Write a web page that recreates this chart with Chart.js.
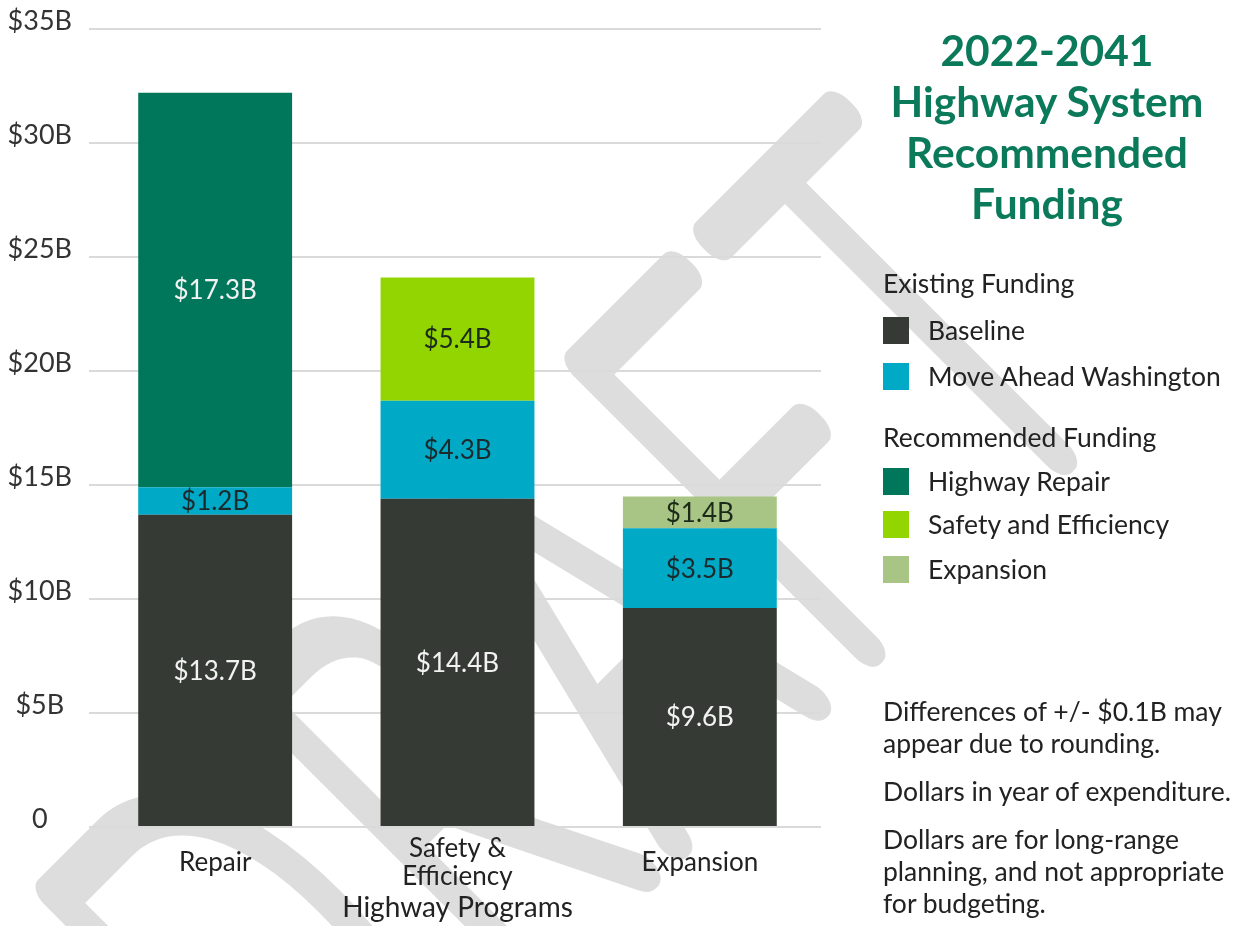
<!DOCTYPE html>
<html lang="en">
<head>
  <meta charset="UTF-8">
  <title>2022-2041 Highway System Recommended Funding</title>
  <script src="https://cdn.jsdelivr.net/npm/chart.js"></script>
  <style>
    body { margin: 0; background: #fff; font-family: 'Lato', 'Open Sans', sans-serif; color: #222; }
    #wrap { position: relative; width: 1242px; height: 926px; }
    #title { position: absolute; left: 852px; top: 24px; width: 390px; text-align: center; color: #0b7a5a;
      font-weight: 700; font-size: 42.5px; line-height: 51px; }
    .legend-head, .legend-item { position: absolute; left: 883px; font-size: 26.5px; line-height: 32px; color: #222; white-space: nowrap; }
    .legend-item { display: flex; align-items: center; }
    .legend-item span.sw { width: 26px; height: 27px; margin-right: 19px; display: inline-block; }
    .note { position: absolute; left: 883px; font-size: 26.5px; line-height: 32px; color: #222; white-space: nowrap; }
  </style>
</head>
<body>
  <div id="wrap">
    <canvas id="chart" width="1242" height="926"></canvas>
    <div id="title">2022-2041<br>Highway System<br>Recommended<br>Funding</div>
    <div id="legend"></div>
    <div class="note" style="top:695px">Differences of +/- $0.1B may<br>appear due to rounding.</div>
    <div class="note" style="top:775px">Dollars in year of expenditure.</div>
    <div class="note" style="top:823px">Dollars are for long-range<br>planning, and not appropriate<br>for budgeting.</div>
  </div>

  <script>
    // categories and values (billions of dollars)
    const categories = ['Repair', ['Safety &', 'Efficiency'], 'Expansion'];
    const baseline = [13.7, 14.4, 9.6];
    const moveAhead = [1.2, 4.3, 3.5];
    const highwayRepair = [17.3, null, null];
    const safetyEfficiency = [null, 5.4, null];
    const expansion = [null, null, 1.4];
    const yTicks = [0, 5, 10, 15, 20, 25, 30, 35];

    const colors = {
      baseline: '#363a35',
      moveAhead: '#00a9c6',
      repair: '#00775b',
      safety: '#93d500',
      expansion: '#a9c585'
    };

    // legend groups, built as html (heading y, then item rows)
    const legendGroups = [
      { head: 'Existing Funding', top: 267, rows: [314, 360], items: [['Baseline', colors.baseline], ['Move Ahead Washington', colors.moveAhead]] },
      { head: 'Recommended Funding', top: 421, rows: [465, 508, 553], items: [['Highway Repair', colors.repair], ['Safety and Efficiency', colors.safety], ['Expansion', colors.expansion]] }
    ];
    const legendDiv = document.getElementById('legend');
    legendGroups.forEach(g => {
      let html = `<div class="legend-head" style="top:${g.top}px">${g.head}</div>`;
      g.items.forEach((it, i) => {
        html += `<div class="legend-item" style="top:${g.rows[i]}px"><span class="sw" style="background:${it[1]}"></span>${it[0]}</div>`;
      });
      legendDiv.insertAdjacentHTML('beforeend', html);
    });

    // DRAFT watermark behind everything, running up to the right at 45 degrees
    const watermark = {
      id: 'watermark',
      beforeDraw(chart) {
        const ctx = chart.ctx;
        ctx.save();
        ctx.rotate(-Math.PI / 4);
        ctx.scale(0.59, 1);
        ctx.font = '100 570px Lato';
        ctx.letterSpacing = '45px';
        ctx.textAlign = 'left';
        ctx.textBaseline = 'alphabetic';
        ctx.fillStyle = '#dddddd';
        ctx.strokeStyle = '#dddddd';
        ctx.lineWidth = 44;
        ctx.lineJoin = 'round';
        ctx.lineCap = 'round';
        ctx.fillText('DRAFT', -1075, 1070);
        ctx.strokeText('DRAFT', -1075, 1070);
        ctx.restore();
      }
    };

    // value labels inside each segment
    const segmentLabels = {
      id: 'segmentLabels',
      afterDatasetsDraw(chart) {
        const ctx = chart.ctx;
        ctx.save();
        ctx.font = '26px Lato';
        ctx.textAlign = 'center';
        ctx.textBaseline = 'middle';
        chart.data.datasets.forEach((ds, di) => {
          const meta = chart.getDatasetMeta(di);
          meta.data.forEach((bar, i) => {
            const v = ds.data[i];
            if (v == null) return;
            const p = bar.getProps(['x', 'y', 'base'], true);
            ctx.fillStyle = ds.labelColor;
            ctx.fillText('$' + v.toFixed(1) + 'B', p.x, (p.y + p.base) / 2 + 1);
          });
        });
        ctx.restore();
      }
    };

    Chart.defaults.font.family = 'Lato';

    new Chart(document.getElementById('chart').getContext('2d'), {
      type: 'bar',
      data: {
        labels: categories,
        datasets: [
          { label: 'Baseline', data: baseline, backgroundColor: colors.baseline, labelColor: '#f2f2f2' },
          { label: 'Move Ahead Washington', data: moveAhead, backgroundColor: colors.moveAhead, labelColor: '#1c2a2c' },
          { label: 'Highway Repair', data: highwayRepair, backgroundColor: colors.repair, labelColor: '#f2f2f2' },
          { label: 'Safety and Efficiency', data: safetyEfficiency, backgroundColor: colors.safety, labelColor: '#1c2a1a' },
          { label: 'Expansion', data: expansion, backgroundColor: colors.expansion, labelColor: '#1c2a1a' }
        ]
      },
      options: {
        responsive: false,
        animation: false,
        categoryPercentage: 1,
        barPercentage: 0.635,
        layout: { padding: { top: 29, right: 421, left: 0, bottom: 0 } },
        plugins: {
          legend: { display: false },
          tooltip: { enabled: false }
        },
        scales: {
          x: {
            stacked: true,
            grid: { display: false },
            border: { display: false },
            ticks: { color: '#222', font: { size: 26, lineHeight: 1.05 }, padding: 14, maxRotation: 0, crossAlign: 'center' },
            title: { display: true, text: 'Highway Programs', color: '#222', font: { size: 28 }, padding: { top: 0, bottom: 1 } },
            afterFit(scale) { scale.height = 99; }
          },
          y: {
            stacked: true,
            min: 0,
            max: 35,
            afterBuildTicks(scale) { scale.ticks = yTicks.map(v => ({ value: v })); },
            grid: { color: '#dadada', lineWidth: 2, drawTicks: true, tickLength: 5, tickColor: '#dadada' },
            border: { display: false },
            ticks: {
              color: '#333',
              font: { size: 27 },
              padding: 17,
              crossAlign: 'center',
              labelOffset: -8,
              callback: v => v === 0 ? '0' : '$' + v + 'B'
            },
            afterFit(scale) {
              scale.width = 94;
              scale.paddingTop = 0;
              scale.paddingBottom = 0;
            }
          }
        }
      },
      plugins: [watermark, segmentLabels]
    });
  </script>
</body>
</html>
